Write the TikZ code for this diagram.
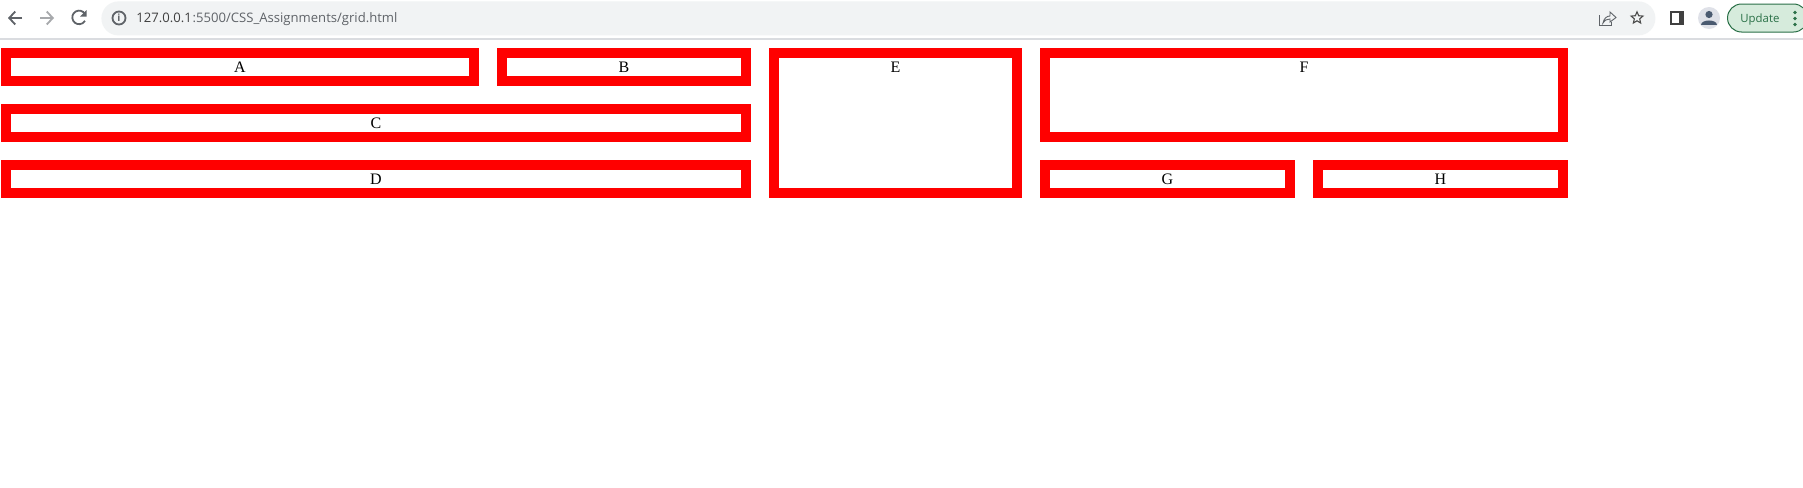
\documentclass[tikz,border=0pt]{standalone}
\usepackage{fontspec}
\setmainfont{Liberation Serif}
\newfontfamily\uifont{Open Sans}
\usetikzlibrary{arrows.meta, positioning, shapes.geometric}
\definecolor{barfill}{HTML}{F1F3F4}
\definecolor{barline}{HTML}{DADCE0}
\definecolor{icongrey}{HTML}{5F6368}
\definecolor{pillfill}{HTML}{D6EBDC}
\definecolor{pillgreen}{HTML}{2A7047}
\definecolor{avatarfill}{HTML}{DFE1E8}
\definecolor{avatardark}{HTML}{4A5A70}

\begin{document}
\begin{tikzpicture}[x=0.5pt, y=-0.5pt,
        cell/.style 2 args={rectangle, draw=red, line width=5pt, inner sep=0pt,
                  minimum width=#1, text width=#1, align=center,
                  text height=9.5pt, text depth=#2, font=\fontsize{8}{9.6}\selectfont},
        tool/.style={draw=icongrey, line width=0.9pt},
        uitext/.style={inner sep=0pt, anchor=base west, font=\uifont\fontsize{6.55}{8}\selectfont},
        gap/.style={node distance=9pt}]
      \useasboundingbox (0,0) rectangle (1803,487);
      % browser bar
      \fill[white] (0,0) rectangle (1803,487);
      \draw[barline, line width=0.6pt] (0,39) -- (1803,39);
      \node[rectangle, fill=barfill, rounded corners=8.5pt, minimum width=777pt, minimum height=17pt,
            inner sep=0pt, anchor=north west] (bar) at (101,1) {};
      \draw[tool, -{Straight Barb[length=3pt,width=6.5pt]}] (22,18) -- (8,18);
      \draw[tool, draw=icongrey!55, -{Straight Barb[length=3pt,width=6.5pt]}] (40,18) -- (54,18);
      \draw[tool] (85,14) arc (-30:-330:6.8);
      \fill[icongrey] (86.5,10) -- (86.5,16.5) -- (80,16.5) -- cycle;
      \node[circle, tool, minimum size=6.5pt, inner sep=0pt] (info) at (119,18) {};
      \node[inner sep=0pt, text=icongrey, font=\uifont\bfseries\fontsize{5}{5}\selectfont] at (info) {i};
      \node[uitext, text=black!75] (host) at (136,23) {127.0.0.1};
      \node[uitext, text=icongrey, anchor=base west] (path) at (host.base east) {:5500/CSS\_Assignments/grid.html};
      % share, star, side panel
      \draw[tool, line width=0.4pt] (1599,15) -- (1599,25) -- (1611,25) -- (1611,22);
      \draw[tool, line width=0.45pt, fill=barfill] (1603,23) .. controls (1604,18) and (1607,16) .. (1610,16)
        -- (1610,12) -- (1616,17.5) -- (1610,22) -- (1610,19) .. controls (1607,19) and (1605,20) .. (1603,23) -- cycle;
      \node[star, star points=5, star point ratio=2.2, draw=black!70, line width=0.55pt, minimum size=6.2pt, inner sep=0pt] (fav) at (1637,18) {};
      \draw[black!75, line width=0.8pt, fill=white] (1671,12) rectangle (1683,24);
      \fill[black!75] (1679,12) rectangle (1683,24);
      \node[circle, fill=avatarfill, minimum size=11pt, inner sep=0pt] (avatar) at (1709,18) {};
      \fill[avatardark] (1709,14.5) circle (3.6);
      \fill[avatardark] (1701,25) .. controls (1701,19) and (1717,19) .. (1717,25) -- cycle;
      \node[rectangle, rounded corners=7pt, draw=pillgreen, fill=pillfill, line width=0.5pt,
            minimum width=40pt, minimum height=14pt, inner sep=0pt, anchor=west] (pill) at (1727,18) {};
      \node[uitext, text=pillgreen, font=\uifont\fontsize{5.7}{7}\selectfont] (update) at (1740,22) {Update};
      \foreach \ypos in {12.5,18.5,24.5}
        \fill[pillgreen] (1795,\ypos) circle (1.8);
      % grid cells
      \node[cell={234pt}{4.5pt}, anchor=north west] (A) at (1,48) {A};
      \node[cell={122pt}{4.5pt}, gap, right=of A.north east, anchor=north west] (B) {B};
      \node[cell={370pt}{4.5pt}, gap, below=of A.south west, anchor=north west] (C) {C};
      \node[cell={370pt}{4.5pt}, gap, below=of C.south west, anchor=north west] (D) {D};
      \node[cell={121.5pt}{60.5pt}, gap, right=of B.north east, anchor=north west] (E) {E};
      \node[cell={259pt}{32.5pt}, gap, right=of E.north east, anchor=north west] (F) {F};
      \node[cell={122.5pt}{4.5pt}, gap, below=of F.south west, anchor=north west] (G) {G};
      \node[cell={122.5pt}{4.5pt}, gap, right=of G.north east, anchor=north west] (H) {H};
    \end{tikzpicture}
\end{document}
